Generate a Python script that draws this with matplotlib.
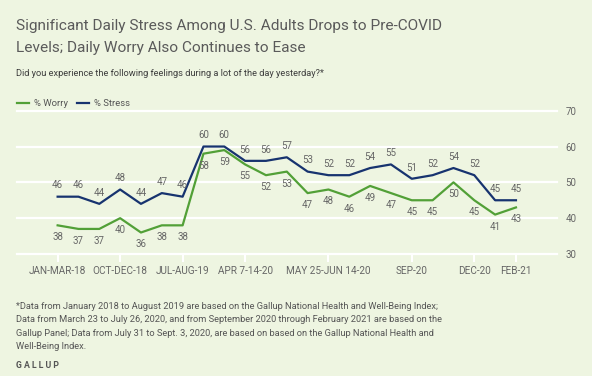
import matplotlib.pyplot as plt
from matplotlib.lines import Line2D

plt.rcParams['font.family'] = ['Roboto', 'DejaVu Sans']

# values, one point per survey period
worry = [38, 37, 37, 40, 36, 38, 38, 58, 59, 55, 52, 53, 47, 48, 46, 49, 47, 45, 45, 50, 45, 41, 43]
stress = [46, 46, 44, 48, 44, 47, 46, 60, 60, 56, 56, 57, 53, 52, 52, 54, 55, 51, 52, 54, 52, 45, 45]
tick_idx = [0, 3, 6, 9, 13, 17, 20, 22]
tick_labels = ["JAN-MAR-18", "OCT-DEC-18", "JUL-AUG-19", "APR 7-14-20",
               "MAY 25-JUN 14-20", "SEP-20", "DEC-20", "FEB-21"]
y_ticks = [30, 40, 50, 60, 70]

bg = '#eef5e1'
green = '#52a037'
navy = '#17336f'
grey = '#666666'

W, H = 592, 376
fig = plt.figure(figsize=(W / 100, H / 100), dpi=100, facecolor=bg)
ax = fig.add_axes([17 / W, 1 - 254 / H, 540 / W, (254 - 110.7) / H])
ax.set_facecolor(bg)

x = list(range(len(stress)))
ax.plot(x, stress, color=navy, lw=1.6, zorder=3)
ax.plot(x, worry, color=green, lw=1.6, zorder=3)

for i, v in enumerate(stress):
    ax.annotate(str(v), (i, v), xytext=(0, 4.5), textcoords='offset points',
                ha='center', va='bottom', fontsize=7, color=grey)
for i, v in enumerate(worry):
    ax.annotate(str(v), (i, v), xytext=(0, -5), textcoords='offset points',
                ha='center', va='top', fontsize=7, color=grey)

ax.set_xlim(-1.95, 23.97)
ax.set_ylim(30, 70)
for s in ax.spines.values():
    s.set_visible(False)

ax.set_yticks(y_ticks)
ax.yaxis.tick_right()
ax.tick_params(axis='y', length=0, pad=6, labelsize=7, labelcolor=grey)
ax.grid(axis='y', color='white', lw=1.6, zorder=1)
for gl in ax.get_ygridlines():
    gl.set_clip_on(False)

ax.set_xticks(tick_idx)
ax.set_xticklabels(tick_labels)
ax.tick_params(axis='x', length=5.5, width=1.5, color='white', pad=3,
               labelsize=7.2, labelcolor=grey)

# header
fig.text(16 / W, 1 - 26 / H, "Significant Daily Stress Among U.S. Adults Drops to Pre-COVID",
         fontsize=11.1, color='#5a5a5a', va='center')
fig.text(16 / W, 1 - 48 / H, "Levels; Daily Worry Also Continues to Ease",
         fontsize=11.1, color='#5a5a5a', va='center')
fig.text(16 / W, 1 - 73.5 / H, "Did you experience the following feelings during a lot of the day yesterday?*",
         fontsize=6.7, color='#3d3d3d', va='center')

handles = [Line2D([], [], color=green, lw=1.6), Line2D([], [], color=navy, lw=1.6)]
fig.legend(handles, ["% Worry", "% Stress"], loc='center left',
           bbox_to_anchor=(8 / W, 1 - 104 / H), ncol=2, frameon=False,
           fontsize=6.8, labelcolor='#555555', handlelength=1.3,
           handletextpad=0.5, columnspacing=1.0)

notes = ["*Data from January 2018 to August 2019 are based on the Gallup National Health and Well-Being Index;",
         "Data from March 23 to July 26, 2020, and from September 2020 through February 2021 are based on the",
         "Gallup Panel; Data from July 31 to Sept. 3, 2020, are based on based on the Gallup National Health and",
         "Well-Being Index."]
for k, line in enumerate(notes):
    fig.text(16 / W, 1 - (306.6 + 13.4 * k) / H, line, fontsize=6.7,
             color='#555555', va='center')
fig.text(16 / W, 1 - 365.5 / H, "G A L L U P", fontsize=6.3, color='#555555',
         va='center', fontweight='bold')

fig.savefig('out.png', dpi=100, facecolor=bg)
